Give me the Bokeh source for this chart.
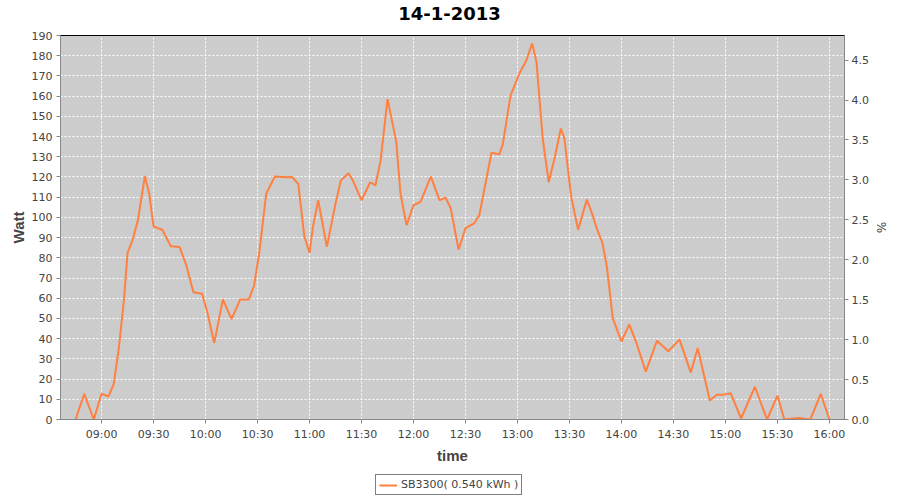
import pandas as pd
from bokeh.plotting import figure
from bokeh.layouts import column
from bokeh.models import (Range1d, LinearAxis, FixedTicker, DatetimeTickFormatter, Label,
                          Legend, LegendItem, PrintfTickFormatter, ColumnDataSource)
from bokeh.embed import file_html
from bokeh.resources import INLINE

title_text = "14-1-2013"
day = "2013-01-14"
series_name = "SB3300( 0.540 kWh )"

times = ["08:45", "08:50", "08:55:30", "09:00", "09:04", "09:07", "09:10", "09:13", "09:15", "09:18",
         "09:21", "09:25", "09:27:30", "09:30", "09:35", "09:40", "09:45", "09:49", "09:53", "09:58",
         "10:01", "10:05", "10:10", "10:15", "10:20", "10:25", "10:28", "10:31", "10:35", "10:40",
         "10:46", "10:50", "10:53:30", "10:57", "11:00", "11:02", "11:05", "11:10", "11:15", "11:18",
         "11:22:30", "11:25", "11:30", "11:35", "11:38", "11:41", "11:45", "11:50", "11:52:30", "11:56",
         "12:00", "12:04", "12:10", "12:15", "12:18:30", "12:21:30", "12:26", "12:30", "12:35", "12:38",
         "12:45", "12:49:30", "12:51:30", "12:56", "13:01", "13:05", "13:08:30", "13:11", "13:14:30", "13:18",
         "13:21:30", "13:25", "13:27", "13:31", "13:35", "13:40", "13:43", "13:46", "13:49", "13:51:30",
         "13:55", "14:00", "14:04:30", "14:09", "14:14", "14:20:30", "14:27", "14:33:30", "14:40", "14:44",
         "14:47:30", "14:51", "14:55", "14:59", "15:03", "15:09", "15:17", "15:24", "15:30", "15:34",
         "15:42", "15:49", "15:55", "16:00"]

watt = [0, 12.7, 0, 12.7, 11.4, 17.5, 35.5, 60, 82.5, 89,
        98.7, 120.5, 111.7, 95.5, 93.9, 85.7, 85.4, 76, 63, 62.2,
        53.2, 37.8, 59.4, 49.7, 59.4, 59.4, 66.3, 82.5, 111.7, 120.2,
        119.9, 120, 116.6, 90.6, 82.5, 95.5, 108.5, 85.4, 106.8, 118.2,
        121.8, 118.2, 108.5, 117.4, 115.8, 128, 158.5, 137.7, 111.7, 96.1,
        106, 107.7, 120.2, 108.5, 109.8, 104.4, 84.1, 94.7, 97.1, 101.2,
        132, 131.2, 136, 160.4, 171, 177.5, 186.1, 176.7, 139.3, 117.4,
        129.6, 144, 139.3, 110.1, 93.9, 108.8, 102, 93.9, 87.4, 76,
        50, 38.6, 47.1, 37, 23.7, 39, 33.8, 39.5, 23.2, 35.4,
        22.4, 9.4, 12.3, 12.3, 13, 0.5, 16.2, 0, 11.8, 0,
        0.8, 0, 12.7, 0]

x_tick_labels = ["09:00", "09:30", "10:00", "10:30", "11:00", "11:30", "12:00", "12:30",
                 "13:00", "13:30", "14:00", "14:30", "15:00", "15:30", "16:00"]

watt_max = 190
pct_max = 4.808

assert len(times) == len(watt)


def full(s):
    return pd.Timestamp(day + " " + (s if s.count(":") == 2 else s + ":00"))


def ms(ts):
    return ts.value / 1e6


t = [full(s) for s in times]
src = ColumnDataSource(dict(t=t, w=watt))

span = t[-1] - t[0]
x_start = t[0] - span * 0.02
x_end = t[-1] + span * 0.02

TXT = "#444444"
FONT = "DejaVu Sans"
LINE = "#FF8040"
W = 890


def strip(h):
    f = figure(width=W, height=h, x_range=Range1d(0, 1), y_range=Range1d(0, 1),
               output_backend="svg", toolbar_location=None,
               x_axis_location=None, y_axis_location=None,
               min_border_left=0, min_border_right=0, min_border_top=0, min_border_bottom=0)
    f.outline_line_color = None
    f.background_fill_color = "white"
    f.border_fill_color = "white"
    f.xgrid.visible = False
    f.ygrid.visible = False
    return f


# title strip (its frame is aligned with the chart frame by the column layout)
top = strip(26)
top.add_layout(Label(x=389, y=0.5, x_units="screen", text=title_text, text_align="center",
                     text_baseline="middle", text_font=FONT, text_font_size="18px",
                     text_font_style="bold", text_color="black"))

# main chart
p = figure(width=W, height=440, x_axis_type="datetime",
           x_range=Range1d(ms(x_start), ms(x_end)), y_range=Range1d(0, watt_max),
           output_backend="svg", toolbar_location=None,
           min_border_left=60, min_border_right=40, min_border_top=9, min_border_bottom=40)

p.background_fill_color = "#CCCCCC"
p.border_fill_color = "white"
p.outline_line_color = "black"
p.outline_line_width = 1

r = p.line("t", "w", source=src, line_color=LINE, line_width=2)

# x axis
xa = p.xaxis[0]
xa.ticker = FixedTicker(ticks=[ms(full(s)) for s in x_tick_labels])
xa.formatter = DatetimeTickFormatter(hours="%H:%M", hourmin="%H:%M", minutes="%H:%M",
                                     minsec="%H:%M", seconds="%H:%M", days="%H:%M")
xa.axis_label = "time"

# y axis
ya = p.yaxis[0]
ya.ticker = FixedTicker(ticks=list(range(0, watt_max + 1, 10)))
ya.axis_label = "Watt"

# right axis
p.extra_y_ranges = {"pct": Range1d(0, pct_max)}
ra = LinearAxis(y_range_name="pct", axis_label="%",
                ticker=FixedTicker(ticks=[i * 0.5 for i in range(10)]),
                formatter=PrintfTickFormatter(format="%.1f"))
p.add_layout(ra, "right")

for ax in [xa, ya, ra]:
    ax.axis_line_color = "#888888"
    ax.major_tick_line_color = "#888888"
    ax.minor_tick_line_color = None
    ax.major_tick_in = 0
    ax.major_tick_out = 4
    ax.major_label_text_font = FONT
    ax.major_label_text_font_size = "11px"
    ax.major_label_text_color = TXT
    ax.major_label_standoff = 4
    ax.axis_label_text_font = "Liberation Sans"
    ax.axis_label_text_font_size = "15px"
    ax.axis_label_text_font_style = "bold"
    ax.axis_label_text_color = TXT
    ax.axis_label_standoff = 2

xa.axis_label_standoff = 3

ra.major_label_standoff = 3
ra.axis_label_text_font = FONT
ra.axis_label_text_font_style = "normal"
ra.axis_label_text_font_size = "12px"
ra.axis_label_standoff = 2

for g in [p.xgrid[0], p.ygrid[0]]:
    g.grid_line_color = "white"
    g.grid_line_dash = "2 2"
    g.grid_line_width = 1

# legend strip under the chart
lg = strip(30)
key = lg.line(x=[-2, -1], y=[-2, -2], line_color=LINE, line_width=2)
legend = Legend(items=[LegendItem(label=series_name, renderers=[key])],
                location=(315, 1), orientation="horizontal",
                border_line_color="black", border_line_width=1,
                background_fill_color="white", background_fill_alpha=1,
                label_text_font=FONT, label_text_font_size="11px", label_text_color=TXT,
                glyph_width=18, glyph_height=12, label_standoff=4,
                padding=3, margin=0, spacing=0)
lg.add_layout(legend, "center")

layout = column(top, p, lg, spacing=0)
open("out.html", "w").write(file_html(layout, INLINE))
